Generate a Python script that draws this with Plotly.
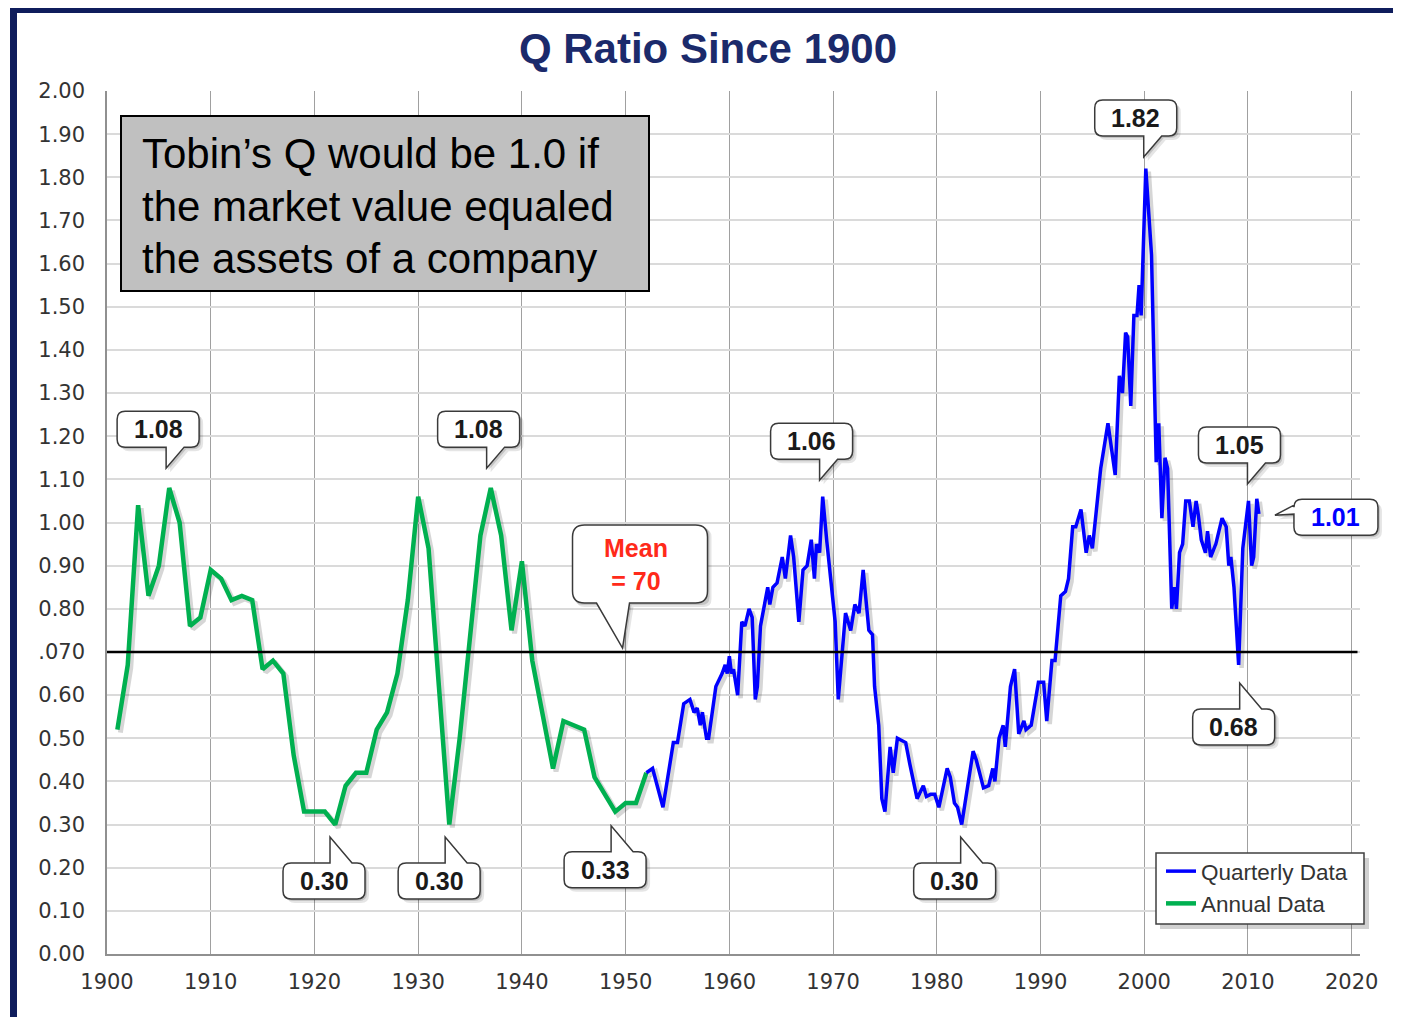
import plotly.graph_objects as go

# ---- data ----
annual_years = list(range(1901, 1953))
annual_q = [
    0.52, 0.67, 1.04, 0.83, 0.90, 1.08, 1.00, 0.76, 0.78, 0.89,
    0.87, 0.82, 0.83, 0.82, 0.66, 0.68, 0.65, 0.46, 0.33, 0.33,
    0.33, 0.30, 0.39, 0.42, 0.42, 0.52, 0.56, 0.65, 0.82, 1.06,
    0.94, 0.62, 0.30, 0.50, 0.74, 0.97, 1.08, 0.97, 0.75, 0.91,
    0.68, 0.55, 0.43, 0.54, 0.53, 0.52, 0.41, 0.37, 0.33, 0.35,
    0.35, 0.42,
]

quarterly_years = [
    1952.0, 1952.6, 1953.6, 1954.6, 1955.0, 1955.6, 1956.2, 1956.6, 1956.9, 1957.2,
    1957.4, 1957.8, 1958.0, 1958.7, 1959.3, 1959.6, 1959.8, 1960.0, 1960.2, 1960.4,
    1960.8, 1961.2, 1961.5, 1961.9, 1962.2, 1962.5, 1962.7, 1963.0, 1963.7, 1963.9,
    1964.2, 1964.6, 1965.1, 1965.4, 1965.9, 1966.2, 1966.7, 1967.1, 1967.5, 1967.9,
    1968.2, 1968.4, 1968.7, 1969.0, 1969.4, 1970.2, 1970.5, 1971.2, 1971.7, 1972.1,
    1972.5, 1972.9, 1973.45, 1973.8, 1974.0, 1974.4, 1974.7, 1975.0, 1975.5, 1975.8,
    1976.2, 1977.0, 1977.4, 1978.1, 1978.7, 1979.0, 1979.4, 1979.8, 1980.2, 1981.0,
    1981.3, 1981.7, 1982.0, 1982.4, 1983.5, 1983.8, 1984.5, 1985.0, 1985.4, 1985.6,
    1986.0, 1986.4, 1986.6, 1987.1, 1987.5, 1987.9, 1988.4, 1988.6, 1989.1, 1989.8,
    1990.1, 1990.3, 1990.6, 1991.1, 1991.4, 1991.95, 1992.4, 1992.7, 1993.1, 1993.4,
    1993.9, 1994.4, 1994.7, 1995.0, 1995.8, 1996.1, 1996.5, 1997.2, 1997.6, 1997.9,
    1998.2, 1998.4, 1998.7, 1999.0, 1999.3, 1999.5, 1999.7, 2000.15, 2000.7, 2001.15,
    2001.4, 2001.7, 2002.0, 2002.25, 2002.65, 2002.9, 2003.1, 2003.4, 2003.7, 2004.0,
    2004.35, 2004.7, 2005.0, 2005.2, 2005.5, 2005.9, 2006.1, 2006.4, 2006.9, 2007.5,
    2007.9, 2008.15, 2008.35, 2008.65, 2009.1, 2009.5, 2010.05, 2010.35, 2010.55, 2010.85,
    2011.05,
]
quarterly_q = [
    0.42, 0.43, 0.34, 0.49, 0.49, 0.58, 0.59, 0.56, 0.57, 0.53,
    0.56, 0.50, 0.50, 0.62, 0.65, 0.67, 0.65, 0.69, 0.65, 0.66,
    0.60, 0.77, 0.76, 0.80, 0.78, 0.59, 0.62, 0.76, 0.85, 0.81,
    0.85, 0.86, 0.92, 0.87, 0.97, 0.92, 0.77, 0.89, 0.90, 0.96,
    0.87, 0.95, 0.93, 1.06, 0.955, 0.77, 0.59, 0.79, 0.75, 0.81,
    0.79, 0.89, 0.75, 0.74, 0.62, 0.53, 0.36, 0.33, 0.48, 0.42,
    0.50, 0.49, 0.44, 0.36, 0.39, 0.365, 0.37, 0.37, 0.34, 0.43,
    0.41, 0.35, 0.34, 0.30, 0.47, 0.45, 0.385, 0.39, 0.43, 0.40,
    0.50, 0.53, 0.48, 0.62, 0.66, 0.51, 0.54, 0.52, 0.53, 0.63,
    0.63, 0.63, 0.54, 0.68, 0.68, 0.83, 0.84, 0.87, 0.99, 0.99,
    1.03, 0.93, 0.97, 0.94, 1.125, 1.17, 1.23, 1.11, 1.34, 1.30,
    1.44, 1.43, 1.27, 1.48, 1.48, 1.55, 1.48, 1.82, 1.62, 1.14,
    1.23, 1.01, 1.15, 1.125, 0.80, 0.85, 0.80, 0.93, 0.95, 1.05,
    1.05, 0.99, 1.05, 1.02, 0.96, 0.93, 0.98, 0.92, 0.95, 1.01,
    0.99, 0.90, 0.92, 0.85, 0.67, 0.94, 1.05, 0.90, 0.92, 1.055,
    1.02,
]

mean_q = 0.70

x_ticks = [1900, 1910, 1920, 1930, 1940, 1950, 1960, 1970, 1980, 1990, 2000, 2010, 2020]
y_ticks = [0.0, 0.1, 0.2, 0.3, 0.4, 0.5, 0.6, 0.7, 0.8, 0.9, 1.0,
           1.1, 1.2, 1.3, 1.4, 1.5, 1.6, 1.7, 1.8, 1.9, 2.0]
y_tick_labels = ["0.00", "0.10", "0.20", "0.30", "0.40", "0.50", "0.60", ".070", "0.80", "0.90", "1.00",
                 "1.10", "1.20", "1.30", "1.40", "1.50", "1.60", "1.70", "1.80", "1.90", "2.00"]

note_lines = ["Tobin\u2019s Q would be 1.0 if", "the market value equaled", "the assets of a company"]

# callout label, tip position (year, q), bubble kind
callouts = [
    ("1.08", 1905.7, 1.126, "top"),
    ("1.08", 1936.6, 1.126, "top"),
    ("1.06", 1968.7, 1.098, "top"),
    ("1.82", 1999.95, 1.847, "top"),
    ("1.05", 2009.95, 1.089, "top"),
    ("0.30", 1921.5, 0.271, "bottom"),
    ("0.30", 1932.6, 0.271, "bottom"),
    ("0.33", 1948.6, 0.297, "bottom"),
    ("0.30", 1982.3, 0.271, "bottom"),
    ("0.68", 2009.2, 0.628, "bottom"),
    ("1.01", 2012.6, 1.017, "side"),
    ("Mean<br>= 70", 1949.7, 0.709, "mean"),
]

# ---- page geometry (page pixels; the browser adds an 8px body margin) ----
W, H = 1401, 1017
PAGE = 8
FIG_W, FIG_H = W - PAGE, H - PAGE
L, R, T, B = 107, 1360, 91, 954
X0, X1, Y0, Y1 = 1900, 2020.8, 0.0, 2.0
NAVY = "#0f1d5c"
FONT = "Liberation Sans, Arial, sans-serif"
TICK_FONT = dict(family="DejaVu Sans", size=21, color="#333333")


def px(x):
    return (x - L) / (R - L)


def py(y):
    return (B - y) / (B - T)


def xdata(v):
    return (v - X0) / (X1 - X0)


def ydata(v):
    return (v - Y0) / (Y1 - Y0)


# shadow axes: same data, shifted 3px right and 3px down
SHIFT = 3
dx_years = SHIFT * (X1 - X0) / (R - L)
dy_q = SHIFT * (Y1 - Y0) / (B - T)

# bubble geometry in screen pixels relative to the tip: box (x0, y0, x1, y1), tail edge, tail points
BUBBLES = {
    "top": ((-49, -57, 33, -21), "bottom", (0, 18)),
    "bottom": ((-47, 26, 35, 62), "top", (0, 22)),
    "side": ((19, -16, 103, 20), "left", (-10, -1)),
    "mean": ((-50, -123, 85, -45), "bottom", (-26, 7)),
}


def bubble_path(kind, dx=0, dy=0, r=8):
    (x0, y0, x1, y1), edge, (a, b) = BUBBLES[kind]
    x0, x1, y0, y1 = x0 + dx, x1 + dx, y0 + dy, y1 + dy
    tip = (dx, dy)
    pts = [("M", x0 + r, y0)]
    if edge == "top":
        pts += [("L", dx + a, y0), ("L", *tip), ("L", dx + b, y0)]
    pts += [("L", x1 - r, y0), ("Q", x1, y0, x1, y0 + r), ("L", x1, y1 - r), ("Q", x1, y1, x1 - r, y1)]
    if edge == "bottom":
        pts += [("L", dx + b, y1), ("L", *tip), ("L", dx + a, y1)]
    pts += [("L", x0 + r, y1), ("Q", x0, y1, x0, y1 - r)]
    if edge == "left":
        pts += [("L", x0, dy + b), ("L", *tip), ("L", x0, dy + a)]
    pts += [("L", x0, y0 + r), ("Q", x0, y0, x0 + r, y0)]
    out = []
    for p in pts:
        cmd, vals = p[0], p[1:]
        coords = [f"{vals[i]},{-vals[i + 1]}" for i in range(0, len(vals), 2)]
        out.append(cmd + " ".join(coords))
    return " ".join(out) + " Z"


fig = go.Figure()

# soft shadows under the lines (base axes, shifted)
fig.add_trace(go.Scatter(x=annual_years, y=annual_q, mode="lines", showlegend=False, hoverinfo="skip",
                         line=dict(color="rgba(0,0,0,0.16)", width=5), xaxis="x", yaxis="y"))
fig.add_trace(go.Scatter(x=quarterly_years, y=quarterly_q, mode="lines", showlegend=False, hoverinfo="skip",
                         line=dict(color="rgba(0,0,0,0.16)", width=4.5), xaxis="x", yaxis="y"))

fig.add_trace(go.Scatter(
    x=annual_years, y=annual_q, mode="lines", name="Annual Data",
    line=dict(color="#00b050", width=4.5), legendrank=2, xaxis="x2", yaxis="y2",
))
fig.add_trace(go.Scatter(
    x=quarterly_years, y=quarterly_q, mode="lines", name="Quarterly Data",
    line=dict(color="#0000ff", width=3.5), legendrank=1, xaxis="x2", yaxis="y2",
))

shapes = []
annotations = []

# page border
shapes.append(dict(type="rect", xref="paper", yref="paper", x0=px(10), x1=px(W + 5), y0=py(8), y1=py(13),
                   fillcolor=NAVY, line=dict(width=0)))
shapes.append(dict(type="rect", xref="paper", yref="paper", x0=px(10), x1=px(17), y0=py(8), y1=py(H + 5),
                   fillcolor=NAVY, line=dict(width=0)))

# mean line
shapes.append(dict(type="line", xref="paper", yref="y2", x0=0, x1=0.998, y0=mean_q, y1=mean_q,
                   line=dict(color="black", width=2.5)))

# note box
shapes.append(dict(type="rect", xref="paper", yref="paper", x0=px(121), x1=px(649), y0=py(291), y1=py(116),
                   fillcolor="#c0c0c0", line=dict(color="black", width=2)))
for i, line in enumerate(note_lines):
    annotations.append(dict(xref="paper", yref="paper", x=px(140), y=py(154 + 52 * i), text=line,
                            showarrow=False, xanchor="left", yanchor="middle",
                            font=dict(family=FONT, size=42, color="black")))

# legend frame with shadow
shapes.append(dict(type="rect", xref="paper", yref="paper", x0=px(1160), x1=px(1369), y0=py(929), y1=py(858),
                   fillcolor="rgba(0,0,0,0.18)", line=dict(width=0)))
shapes.append(dict(type="rect", xref="paper", yref="paper", x0=px(1156), x1=px(1364), y0=py(924), y1=py(853),
                   fillcolor="white", line=dict(color="#404040", width=1.5)))

# callouts (paper-referenced so they are not clipped at the plot edge)
for label, tx, ty, kind in callouts:
    base = dict(type="path", xref="paper", yref="paper", xsizemode="pixel", ysizemode="pixel",
                xanchor=xdata(tx), yanchor=ydata(ty))
    shapes.append(dict(base, path=bubble_path(kind, 4, 4), fillcolor="rgba(0,0,0,0.10)", line=dict(width=0)))
    shapes.append(dict(base, path=bubble_path(kind, 2, 2), fillcolor="rgba(0,0,0,0.14)", line=dict(width=0)))
    shapes.append(dict(base, path=bubble_path(kind, r=12 if kind == "mean" else 8), fillcolor="white",
                       line=dict(color="#3a3a3a", width=1.5)))
    (x0, y0, x1, y1), _, _ = BUBBLES[kind]
    color = "#0000ff" if kind == "side" else ("#ff2a1a" if kind == "mean" else "#1a1a1a")
    annotations.append(dict(xref="x2", yref="y2", x=tx, y=ty, text=f"<b>{label}</b>", showarrow=False,
                            xshift=(x0 + x1) / 2 - (4 if kind == "mean" else 0), yshift=-(y0 + y1) / 2,
                            xanchor="center", yanchor="middle",
                            font=dict(family=FONT, size=25, color=color)))

hidden = dict(visible=False, showgrid=False, zeroline=False)

fig.update_layout(
    width=FIG_W, height=FIG_H,
    margin=dict(l=L - PAGE, r=FIG_W - (R - PAGE), t=T - PAGE, b=FIG_H - (B - PAGE)),
    paper_bgcolor="white", plot_bgcolor="white",
    title=dict(text="<b>Q Ratio Since 1900</b>", x=(708 - PAGE) / FIG_W, y=1 - (48 - PAGE) / FIG_H,
               xref="container", yref="container", xanchor="center", yanchor="middle",
               font=dict(family=FONT, size=42, color="#1b2a6b")),
    xaxis=dict(hidden, range=[X0 - dx_years, X1 - dx_years]),
    yaxis=dict(hidden, range=[Y0 + dy_q, Y1 + dy_q]),
    xaxis2=dict(overlaying="x", range=[X0, X1], tickvals=x_ticks, showgrid=True, gridcolor="#a0a0a0",
                gridwidth=1.3, showline=True, linecolor="#909090", linewidth=1.5, zeroline=False, ticks="",
                side="bottom", ticklabelstandoff=8, tickfont=TICK_FONT),
    yaxis2=dict(overlaying="y", range=[Y0, Y1], tickvals=y_ticks, ticktext=y_tick_labels, showgrid=True,
                gridcolor="#dadada", gridwidth=2, showline=True, linecolor="#909090", linewidth=1.5,
                zeroline=False, ticks="", side="left", ticklabelstandoff=16, tickfont=TICK_FONT),
    legend=dict(x=px(1161), y=py(850), xanchor="left", yanchor="top", bgcolor="rgba(0,0,0,0)",
                borderwidth=0, font=dict(family=FONT, size=22.5, color="#333333"), tracegroupgap=0),
    showlegend=True,
    shapes=shapes,
    annotations=annotations,
)

fig.write_html("out.html")
